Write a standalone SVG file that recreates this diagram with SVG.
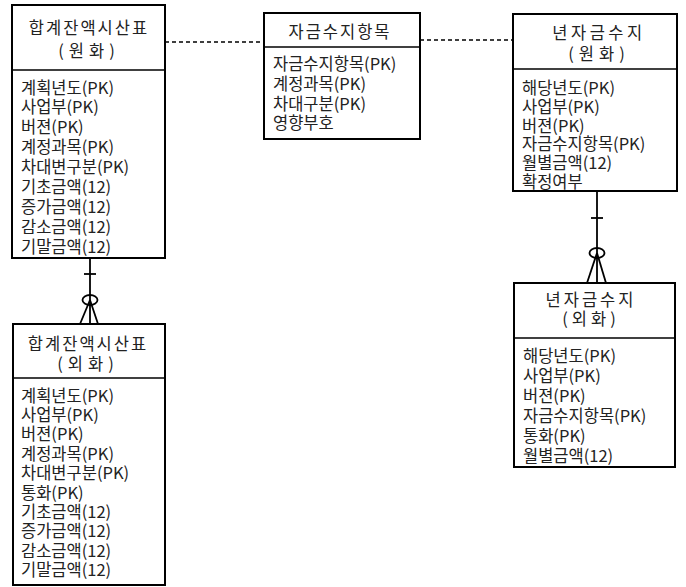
<svg xmlns="http://www.w3.org/2000/svg" width="686" height="587" viewBox="0 0 686 587">
<style>
.box{fill:#fff;stroke:#000;stroke-width:2}
.div{stroke:#000;stroke-width:1.5}
.t{font-family:"Noto Sans CJK KR","Noto Sans",sans-serif;font-size:16.5px;fill:#222}
.h{text-anchor:middle;letter-spacing:2px}
.ln{stroke:#000;stroke-width:1.8;fill:none}
.dash{stroke:#000;stroke-width:1.5;stroke-dasharray:4 3;fill:none}
</style>
<g id="connectors">
<line class="dash" x1="165" y1="42" x2="264" y2="42"/>
<line class="dash" x1="420" y1="40" x2="513" y2="40"/>
<line class="ln" x1="90" y1="258" x2="90" y2="324"/>
<line class="ln" x1="84" y1="274" x2="96" y2="274"/>
<ellipse class="ln" cx="90" cy="300" rx="7.5" ry="5"/>
<line class="ln" x1="90" y1="300" x2="80" y2="324"/>
<line class="ln" x1="90" y1="300" x2="98" y2="324"/>
<line class="ln" x1="597" y1="191" x2="597" y2="283"/>
<line class="ln" x1="591" y1="218" x2="603" y2="218"/>
<ellipse class="ln" cx="597" cy="253" rx="7.5" ry="5"/>
<line class="ln" x1="597" y1="253" x2="587" y2="283"/>
<line class="ln" x1="597" y1="253" x2="606" y2="283"/>
</g>
<g id="node-won-trial">
<rect class="box" x="12" y="5" width="153" height="253"/>
<line class="div" x1="12" y1="70" x2="165" y2="70"/>
<text class="t h" x="89" y="34">합계잔액시산표</text>
<text class="t h" x="89" y="56.5" style="letter-spacing:5px">(원화)</text>
<text class="t" x="21" y="93.5">계획년도(PK)</text>
<text class="t" x="21" y="113.4">사업부(PK)</text>
<text class="t" x="21" y="133.3">버젼(PK)</text>
<text class="t" x="21" y="153.2">계정과목(PK)</text>
<text class="t" x="21" y="173.1">차대변구분(PK)</text>
<text class="t" x="21" y="193">기초금액(12)</text>
<text class="t" x="21" y="212.9">증가금액(12)</text>
<text class="t" x="21" y="232.8">감소금액(12)</text>
<text class="t" x="21" y="252.7">기말금액(12)</text>
</g>
<g id="node-fund-item">
<rect class="box" x="264" y="13" width="156" height="126"/>
<line class="div" x1="264" y1="47" x2="420" y2="47"/>
<text class="t h" x="340" y="37.5">자금수지항목</text>
<text class="t" x="273" y="70">자금수지항목(PK)</text>
<text class="t" x="273" y="89.8">계정과목(PK)</text>
<text class="t" x="273" y="109.6">차대구분(PK)</text>
<text class="t" x="273" y="129.4">영향부호</text>
</g>
<g id="node-year-fund-won">
<rect class="box" x="513" y="14" width="164" height="177"/>
<line class="div" x1="513" y1="69" x2="677" y2="69"/>
<text class="t h" x="599" y="39" style="letter-spacing:3.5px">년자금수지</text>
<text class="t h" x="599" y="59.5" style="letter-spacing:5px">(원화)</text>
<text class="t" x="522" y="94">해당년도(PK)</text>
<text class="t" x="522" y="112.8">사업부(PK)</text>
<text class="t" x="522" y="131.6">버젼(PK)</text>
<text class="t" x="522" y="150.4">자금수지항목(PK)</text>
<text class="t" x="522" y="169.2">월별금액(12)</text>
<text class="t" x="522" y="188">확정여부</text>
</g>
<g id="node-year-fund-fx">
<rect class="box" x="514" y="283" width="161" height="184"/>
<line class="div" x1="514" y1="338" x2="675" y2="338"/>
<text class="t h" x="591" y="306" style="letter-spacing:3px">년자금수지</text>
<text class="t h" x="591" y="325" style="letter-spacing:4px">(외화)</text>
<text class="t" x="523" y="361.5">해당년도(PK)</text>
<text class="t" x="523" y="381.5">사업부(PK)</text>
<text class="t" x="523" y="401.5">버젼(PK)</text>
<text class="t" x="523" y="421.5">자금수지항목(PK)</text>
<text class="t" x="523" y="441.5">통화(PK)</text>
<text class="t" x="523" y="461.5">월별금액(12)</text>
</g>
<g id="node-fx-trial">
<rect class="box" x="13" y="324" width="152" height="261"/>
<line class="div" x1="13" y1="378" x2="165" y2="378"/>
<text class="t h" x="88" y="350">합계잔액시산표</text>
<text class="t h" x="88" y="369.5" style="letter-spacing:5px">(외화)</text>
<text class="t" x="21" y="401.5">계획년도(PK)</text>
<text class="t" x="21" y="420.9">사업부(PK)</text>
<text class="t" x="21" y="440.3">버젼(PK)</text>
<text class="t" x="21" y="459.7">계정과목(PK)</text>
<text class="t" x="21" y="479.1">차대변구분(PK)</text>
<text class="t" x="21" y="498.5">통화(PK)</text>
<text class="t" x="21" y="517.9">기초금액(12)</text>
<text class="t" x="21" y="537.3">증가금액(12)</text>
<text class="t" x="21" y="556.7">감소금액(12)</text>
<text class="t" x="21" y="576.1">기말금액(12)</text>
</g>
</svg>
